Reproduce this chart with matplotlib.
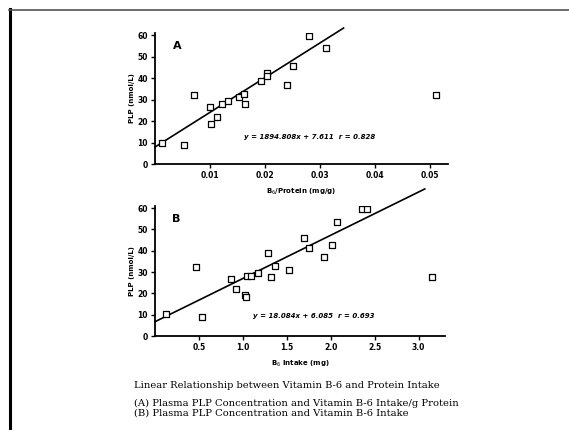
import matplotlib
matplotlib.use("Agg")
import matplotlib.pyplot as plt
from matplotlib.lines import Line2D

# Panel A: B6/protein (mg/g) vs plasma PLP (nmol/L)
a_x = [0.0013, 0.0053, 0.0071, 0.0100, 0.0101, 0.0112, 0.0121, 0.0133, 0.0152,
       0.0162, 0.0163, 0.0192, 0.0203, 0.0203, 0.0240, 0.0251, 0.0280, 0.0311, 0.0511]
a_y = [9.9, 8.8, 32.0, 26.4, 18.6, 21.7, 27.9, 29.3, 31.0,
       32.6, 27.9, 38.7, 42.5, 41.0, 37.0, 45.7, 59.5, 54.0, 32.0]
a_fit_x = [0.0, 0.0343]
a_fit_y = [7.9, 63.3]

# Panel B: B6 intake (mg) vs plasma PLP (nmol/L)
b_x = [0.13, 0.47, 0.54, 0.87, 0.92, 1.02, 1.03, 1.05, 1.09, 1.17, 1.29, 1.32, 1.36,
       1.52, 1.69, 1.75, 1.92, 2.01, 2.07, 2.36, 2.41, 3.15]
b_y = [10.2, 32.2, 9.1, 26.8, 21.9, 19.2, 18.4, 28.3, 28.3, 29.7, 38.8, 27.8, 32.9,
       31.0, 45.9, 41.2, 36.9, 42.7, 53.7, 59.6, 59.6, 27.5]
b_fit_x = [0.0, 3.07]
b_fit_y = [6.7, 69.0]

a_xticks = [0.01, 0.02, 0.03, 0.04, 0.05]
b_xticks = [0.5, 1.0, 1.5, 2.0, 2.5, 3.0]
yticks = [0, 10, 20, 30, 40, 50, 60]

caption = ["Linear Relationship between Vitamin B-6 and Protein Intake",
           "(A) Plasma PLP Concentration and Vitamin B-6 Intake/g Protein",
           "(B) Plasma PLP Concentration and Vitamin B-6 Intake"]

fig = plt.figure(figsize=(5.69, 4.30), dpi=100)

# scan frame (left and top edges)
fig.add_artist(Line2D([9.5/569, 9.5/569], [0, 1 - 9/430], transform=fig.transFigure,
                      color='black', lw=2.2))
fig.add_artist(Line2D([9/569, 1], [1 - 9.5/430, 1 - 9.5/430], transform=fig.transFigure,
                      color='#555555', lw=1.2))

ax1 = fig.add_axes([155/569, 1 - 164/430, 293/569, 131/430])
ax2 = fig.add_axes([155/569, 1 - 336/430, 290/569, 130/430])


def style(ax, xticks, xlabel, fmt):
    for s in ['top', 'right']:
        ax.spines[s].set_visible(False)
    for s in ['left', 'bottom']:
        ax.spines[s].set_linewidth(1.3)
    ax.set_yticks(yticks)
    ax.set_ylim(0, 61)
    ax.set_xticks(xticks)
    ax.set_xticklabels([fmt.format(t) for t in xticks])
    ax.tick_params(direction='out', length=3, width=1, labelsize=5.5, pad=2)
    for lbl in ax.get_xticklabels() + ax.get_yticklabels():
        lbl.set_fontweight('bold')
    ax.set_ylabel('PLP (nmol/L)', fontsize=5, fontweight='bold', labelpad=2)
    ax.set_xlabel(xlabel, fontsize=5, fontweight='bold', labelpad=5)


ax1.scatter(a_x, a_y, marker='s', s=13, facecolors='white', edgecolors='black',
            linewidths=0.9, zorder=3)
ax1.plot(a_fit_x, a_fit_y, color='black', lw=1.2, clip_on=False)
ax1.set_xlim(0, 0.0533)
style(ax1, a_xticks, 'B$_6$/Protein (mg/g)', '{:.2f}')
ax1.text(0.06, 0.88, 'A', transform=ax1.transAxes, fontsize=8, fontweight='bold')
ax1.text(0.0162, 11.5, 'y = 1894.808x + 7.611  r = 0.828', fontsize=5,
         fontweight='bold', fontstyle='italic')

ax2.scatter(b_x, b_y, marker='s', s=13, facecolors='white', edgecolors='black',
            linewidths=0.9, zorder=3)
ax2.plot(b_fit_x, b_fit_y, color='black', lw=1.2, clip_on=False)
ax2.set_xlim(0, 3.3)
style(ax2, b_xticks, 'B$_6$ Intake (mg)', '{:.1f}')
ax2.text(0.06, 0.88, 'B', transform=ax2.transAxes, fontsize=8, fontweight='bold')
ax2.text(1.11, 8.5, 'y = 18.084x + 6.085  r = 0.693', fontsize=5,
         fontweight='bold', fontstyle='italic')

fig.text(134/569, 1 - 385/430, caption[0], fontsize=7.1, family='DejaVu Serif', va='center')
fig.text(134/569, 1 - 403/430, caption[1], fontsize=7.2, family='DejaVu Serif', va='center')
fig.text(134/569, 1 - 413/430, caption[2], fontsize=7.2, family='DejaVu Serif', va='center')

fig.savefig('out.png', dpi=100)
